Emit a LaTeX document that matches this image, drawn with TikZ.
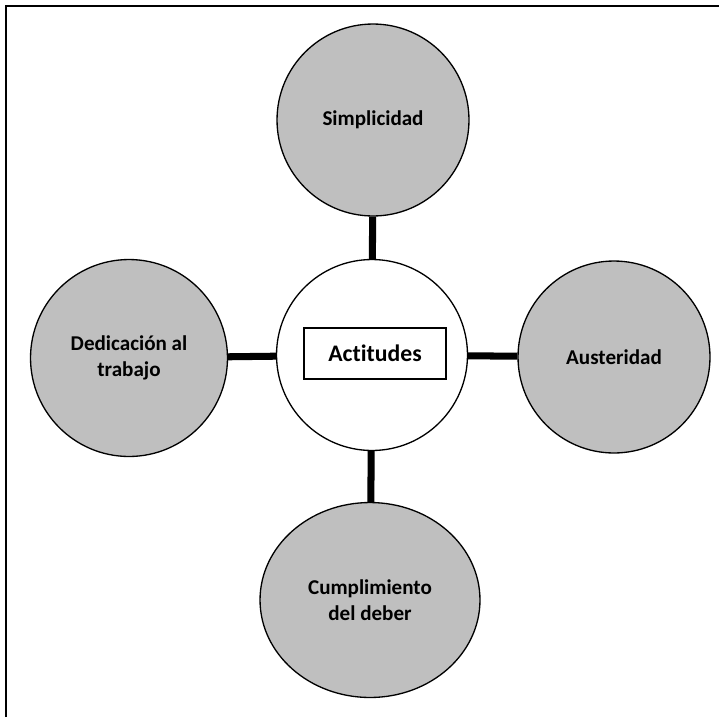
\documentclass[tikz,border=0pt]{standalone}
\usepackage{fontspec}
\setmainfont[Ligatures=NoCommon]{Carlito}
\usetikzlibrary{positioning,shapes.geometric}
\definecolor{gris}{rgb}{0.75,0.75,0.75}

\begin{document}
\begin{tikzpicture}[x=0.02cm, y=-0.02cm,
    valor/.style={circle, draw=black, line width=0.75pt, fill=gris, minimum size=3.84cm,
      inner sep=0pt, align=center, font=\bfseries\fontsize{12}{15}\selectfont},
    enlace/.style={black, line width=4pt}]
  \useasboundingbox (0,0) rectangle (719,717);
  \draw[black, line width=1.1pt] (6,717) -- (6,6) -- (719,6);
  \node[circle, draw=black, line width=0.75pt, fill=white, minimum size=3.82cm] (centro) at (372,355) {};
  \node[draw=black, line width=0.75pt, minimum width=2.84cm, minimum height=1.02cm,
    font=\bfseries\fontsize{13.5}{15}\selectfont] (actitudes) at (375,353.5) {Actitudes};
  \node[valor] (simplicidad) at (373,120) {Simplicidad};
  \node[valor, minimum size=3.94cm] (dedicacion) at (129,358) {Dedicación al\\trabajo};
  \node[valor] (austeridad) at (614,357) {Austeridad};
  \node[valor, ellipse, minimum width=4.4cm, minimum height=3.9cm] (cumplimiento) at (370,600) {Cumplimiento\\del deber};
  \draw[enlace] (simplicidad) -- (centro);
  \draw[enlace] (dedicacion) -- (centro);
  \draw[enlace] (austeridad) -- (centro);
  \draw[enlace] (cumplimiento) -- (centro);
\end{tikzpicture}
\end{document}
